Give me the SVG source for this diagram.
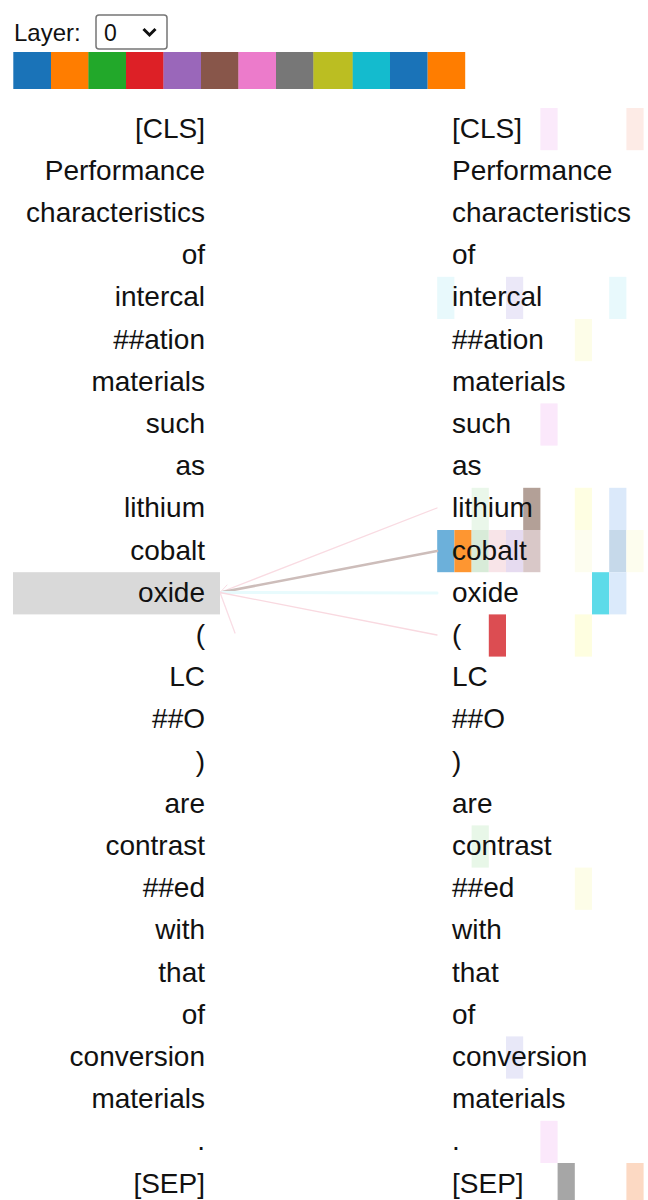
<svg xmlns="http://www.w3.org/2000/svg" width="648" height="1200" viewBox="0 0 648 1200">
<style>
.t{font-family:"Liberation Sans",Arial,sans-serif;font-size:28px;fill:#111}
.l{text-anchor:end}
.c{stroke-linecap:round;fill:none}
</style>
<rect width="648" height="1200" fill="#fff"/>
<g id="layer-select">
<text x="14" y="41" font-family="Liberation Sans,Arial,sans-serif" font-size="24" fill="#111">Layer:</text>
<rect x="96" y="15" width="71" height="34" rx="3" fill="#fff" stroke="#767676" stroke-width="1.5"/>
<text x="104" y="41" font-family="Liberation Sans,Arial,sans-serif" font-size="23" fill="#111">0</text>
<path d="M143.5,29 L149.5,35 L155.5,29" fill="none" stroke="#111" stroke-width="3"/>
</g>
<g id="head-colors">
<rect x="13.3" y="52" width="37.7" height="37" fill="#1a73b8"/>
<rect x="51" y="52" width="37.7" height="37" fill="#ff7d00"/>
<rect x="88.4" y="52" width="37.7" height="37" fill="#22a82a"/>
<rect x="126" y="52" width="37.7" height="37" fill="#dd2026"/>
<rect x="163.5" y="52" width="37.7" height="37" fill="#9a67ba"/>
<rect x="201" y="52" width="37.7" height="37" fill="#88564a"/>
<rect x="238.4" y="52" width="37.7" height="37" fill="#ec7bcb"/>
<rect x="276" y="52" width="37.7" height="37" fill="#777777"/>
<rect x="313.4" y="52" width="39.5" height="37" fill="#bbbe22"/>
<rect x="352.7" y="52" width="37.5" height="37" fill="#14bbce"/>
<rect x="390" y="52" width="37.7" height="37" fill="#1a73b8"/>
<rect x="427.7" y="52" width="37.5" height="37" fill="#ff7d00"/>
</g>
<g id="attention-cells">
<rect x="540.4" y="108" width="17.2" height="42.2" fill="#fbeafb"/>
<rect x="626.4" y="108" width="17.2" height="42.2" fill="#fdebe6"/>
<rect x="437.2" y="276.8" width="17.2" height="42.2" fill="#e8f9fc"/>
<rect x="506" y="276.8" width="17.2" height="42.2" fill="#ebe8f8"/>
<rect x="609.2" y="276.8" width="17.2" height="42.2" fill="#e8f9fc"/>
<rect x="574.8" y="319" width="17.2" height="42.2" fill="#fdfde8"/>
<rect x="540.4" y="403.4" width="17.2" height="42.2" fill="#fbe8fb"/>
<rect x="471.6" y="487.8" width="17.2" height="42.2" fill="#eaf7ea"/>
<rect x="523.2" y="487.8" width="17.2" height="42.2" fill="#b3a097"/>
<rect x="574.8" y="487.8" width="17.2" height="42.2" fill="#fefee2"/>
<rect x="609.2" y="487.8" width="17.2" height="42.2" fill="#dbe9fa"/>
<rect x="437.2" y="530" width="17.2" height="42.2" fill="#6cb0da"/>
<rect x="454.4" y="530" width="17.2" height="42.2" fill="#fe9631"/>
<rect x="471.6" y="530" width="17.2" height="42.2" fill="#d8ebd8"/>
<rect x="488.8" y="530" width="17.2" height="42.2" fill="#f8e4e8"/>
<rect x="506" y="530" width="17.2" height="42.2" fill="#e6dbf0"/>
<rect x="523.2" y="530" width="17.2" height="42.2" fill="#d9c8c8"/>
<rect x="574.8" y="530" width="17.2" height="42.2" fill="#fdfdef"/>
<rect x="609.2" y="530" width="17.2" height="42.2" fill="#c6d9ea"/>
<rect x="626.4" y="530" width="17.2" height="42.2" fill="#fdfdee"/>
<rect x="592" y="572.2" width="17.2" height="42.2" fill="#5ddbe9"/>
<rect x="609.2" y="572.2" width="17.2" height="42.2" fill="#dbeafb"/>
<rect x="488.8" y="614.4" width="17.2" height="42.2" fill="#dc4d52"/>
<rect x="574.8" y="614.4" width="17.2" height="42.2" fill="#fefee0"/>
<rect x="471.6" y="825.4" width="17.2" height="42.2" fill="#e8f7e8"/>
<rect x="574.8" y="867.6" width="17.2" height="42.2" fill="#fdfde8"/>
<rect x="506" y="1036.4" width="17.2" height="42.2" fill="#e8e8f8"/>
<rect x="540.4" y="1120.8" width="17.2" height="42.2" fill="#fbe8fb"/>
<rect x="557.6" y="1163" width="17.2" height="42.2" fill="#a6a6a6"/>
<rect x="626.4" y="1163" width="17.2" height="42.2" fill="#fcd9c3"/>
</g>
<g id="connectors">
<line class="c" x1="220" y1="592.5" x2="437" y2="508" stroke="#f9dbe2" stroke-width="1.3"/>
<line class="c" x1="220" y1="592.5" x2="437" y2="551" stroke="#cdbdba" stroke-width="2.6"/>
<line class="c" x1="220" y1="592.5" x2="437" y2="593" stroke="#e8fbfd" stroke-width="3"/>
<line class="c" x1="220" y1="592.5" x2="437" y2="635" stroke="#f9d9e0" stroke-width="1.3"/>
<line class="c" x1="220" y1="592.5" x2="235" y2="633" stroke="#f9dde5" stroke-width="1.3"/>
<line class="c" x1="220" y1="592.5" x2="227" y2="585" stroke="#f9dde5" stroke-width="1"/>
</g>
<g id="left-tokens">
<g id="left-oxide-selected"><rect x="13" y="572.2" width="207" height="42.2" fill="#d9d9d9"/></g>
<g id="l0"><text class="t l" x="205" y="137.5">[CLS]</text></g>
<g id="l1"><text class="t l" x="205" y="179.7">Performance</text></g>
<g id="l2"><text class="t l" x="205" y="221.9">characteristics</text></g>
<g id="l3"><text class="t l" x="205" y="264.1">of</text></g>
<g id="l4"><text class="t l" x="205" y="306.3">intercal</text></g>
<g id="l5"><text class="t l" x="205" y="348.5">##ation</text></g>
<g id="l6"><text class="t l" x="205" y="390.7">materials</text></g>
<g id="l7"><text class="t l" x="205" y="432.9">such</text></g>
<g id="l8"><text class="t l" x="205" y="475.1">as</text></g>
<g id="l9"><text class="t l" x="205" y="517.3">lithium</text></g>
<g id="l10"><text class="t l" x="205" y="559.5">cobalt</text></g>
<g id="l11"><text class="t l" x="205" y="601.7">oxide</text></g>
<g id="l12"><text class="t l" x="205" y="643.9">(</text></g>
<g id="l13"><text class="t l" x="205" y="686.1">LC</text></g>
<g id="l14"><text class="t l" x="205" y="728.3">##O</text></g>
<g id="l15"><text class="t l" x="205" y="770.5">)</text></g>
<g id="l16"><text class="t l" x="205" y="812.7">are</text></g>
<g id="l17"><text class="t l" x="205" y="854.9">contrast</text></g>
<g id="l18"><text class="t l" x="205" y="897.1">##ed</text></g>
<g id="l19"><text class="t l" x="205" y="939.3">with</text></g>
<g id="l20"><text class="t l" x="205" y="981.5">that</text></g>
<g id="l21"><text class="t l" x="205" y="1023.7">of</text></g>
<g id="l22"><text class="t l" x="205" y="1065.9">conversion</text></g>
<g id="l23"><text class="t l" x="205" y="1108.1">materials</text></g>
<g id="l24"><text class="t l" x="205" y="1150.3">.</text></g>
<g id="l25"><text class="t l" x="205" y="1192.5">[SEP]</text></g>
</g>
<g id="right-tokens">
<g id="r0"><text class="t" x="452" y="137.5">[CLS]</text></g>
<g id="r1"><text class="t" x="452" y="179.7">Performance</text></g>
<g id="r2"><text class="t" x="452" y="221.9">characteristics</text></g>
<g id="r3"><text class="t" x="452" y="264.1">of</text></g>
<g id="r4"><text class="t" x="452" y="306.3">intercal</text></g>
<g id="r5"><text class="t" x="452" y="348.5">##ation</text></g>
<g id="r6"><text class="t" x="452" y="390.7">materials</text></g>
<g id="r7"><text class="t" x="452" y="432.9">such</text></g>
<g id="r8"><text class="t" x="452" y="475.1">as</text></g>
<g id="r9"><text class="t" x="452" y="517.3">lithium</text></g>
<g id="r10"><text class="t" x="452" y="559.5">cobalt</text></g>
<g id="r11"><text class="t" x="452" y="601.7">oxide</text></g>
<g id="r12"><text class="t" x="452" y="643.9">(</text></g>
<g id="r13"><text class="t" x="452" y="686.1">LC</text></g>
<g id="r14"><text class="t" x="452" y="728.3">##O</text></g>
<g id="r15"><text class="t" x="452" y="770.5">)</text></g>
<g id="r16"><text class="t" x="452" y="812.7">are</text></g>
<g id="r17"><text class="t" x="452" y="854.9">contrast</text></g>
<g id="r18"><text class="t" x="452" y="897.1">##ed</text></g>
<g id="r19"><text class="t" x="452" y="939.3">with</text></g>
<g id="r20"><text class="t" x="452" y="981.5">that</text></g>
<g id="r21"><text class="t" x="452" y="1023.7">of</text></g>
<g id="r22"><text class="t" x="452" y="1065.9">conversion</text></g>
<g id="r23"><text class="t" x="452" y="1108.1">materials</text></g>
<g id="r24"><text class="t" x="452" y="1150.3">.</text></g>
<g id="r25"><text class="t" x="452" y="1192.5">[SEP]</text></g>
</g>
</svg>
